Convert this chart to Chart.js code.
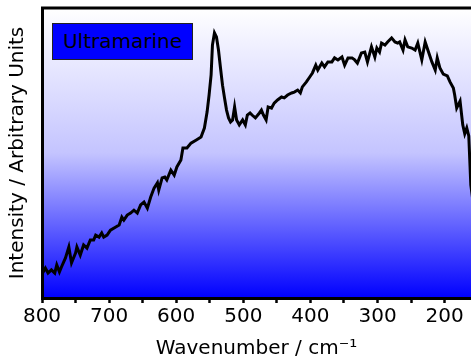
<!DOCTYPE html>
<html>
<head>
<meta charset="utf-8">
<title>Ultramarine Raman</title>
<script src="https://cdn.jsdelivr.net/npm/chart.js@4"></script>
<style>
    html, body { margin: 0; padding: 0; background: #fff; }
    .chart-wrap { position: relative; width: 471px; height: 362px; }
    .sample-label {
        position: absolute;
        left: 52px;
        top: 23px;
        width: 139px;
        height: 35px;
        background: #0000ff;
        border: 1px solid #222;
        font: 20px "DejaVu Sans", sans-serif;
        color: #000;
        line-height: 35px;
        text-align: center;
    }
</style>
</head>
<body>
<div class="chart-wrap">
    <canvas id="spectrum" width="471" height="362"></canvas>
    <div class="sample-label">Ultramarine</div>
</div>
<script>
// Spektrum verisi (dalga sayısı / cm-1 ve yoğunluk)
const wavenumbers = [
    800, 795, 791, 786, 781, 778, 774, 771, 765, 760, 756, 750, 748, 743, 738, 733,
    728, 723, 720, 715, 711, 708, 703, 698, 690, 685, 681, 678, 673, 668, 663, 658,
    653, 648, 643, 638, 633, 628, 626, 621, 617, 614, 608, 603, 599, 593, 590, 584,
    578, 570, 563, 558, 554, 551, 548, 546, 543, 540, 537, 534, 531, 528, 525, 522,
    519, 516, 513, 510, 506, 501, 497, 494, 490, 487, 482, 476, 473, 470, 466, 463,
    458, 454, 449, 443, 439, 434, 428, 424, 419, 415, 412, 406, 401, 397, 392, 389,
    383, 379, 374, 368, 364, 359, 353, 349, 344, 338, 334, 330, 324, 319, 315, 309,
    304, 301, 297, 294, 289, 285, 279, 274, 270, 267, 262, 259, 255, 249, 244, 240,
    234, 229, 225, 219, 214, 211, 207, 202, 196, 192, 187, 185, 182, 177, 173, 170,
    167, 164, 161, 158
];
const intensity = [
    8.3, 10.3, 8.6, 9.7, 8.6, 11.4, 9.0, 10.7, 13.8, 17.6, 12.1, 15.5, 17.6, 14.8, 18.3, 17.2,
    20.0, 20.0, 21.7, 21.0, 22.4, 21.0, 21.7, 23.4, 24.5, 25.2, 27.9, 26.9, 28.6, 29.3, 30.3, 29.3,
    32.1, 33.1, 31.0, 34.8, 37.9, 39.7, 37.2, 41.4, 41.7, 40.7, 44.1, 42.4, 45.2, 47.6, 51.7, 51.7,
    53.4, 54.5, 55.5, 58.6, 64.1, 70.0, 76.9, 87.2, 91.4, 90.0, 85.5, 79.3, 73.4, 69.0, 64.8, 62.1,
    60.7, 61.4, 65.9, 61.4, 59.7, 61.4, 59.7, 63.1, 63.8, 63.1, 62.1, 63.8, 64.8, 63.1, 61.4, 65.9,
    65.5, 67.2, 68.3, 69.3, 69.0, 70.0, 70.7, 71.0, 71.7, 70.7, 72.8, 74.5, 76.2, 77.6, 80.3, 78.6,
    81.0, 79.7, 81.4, 81.4, 82.8, 82.1, 83.1, 80.3, 82.8, 82.8, 82.1, 81.0, 84.5, 84.8, 81.4, 86.6,
    83.1, 86.2, 84.8, 87.9, 87.2, 88.3, 89.7, 88.3, 87.9, 88.3, 85.5, 89.0, 86.6, 86.2, 85.5, 87.9,
    82.1, 88.3, 85.5, 81.4, 78.6, 82.8, 79.3, 77.2, 76.6, 74.5, 72.4, 70.0, 65.5, 67.9, 59.7, 56.6,
    58.6, 55.9, 39.0, 33.8
];

// Eksen aralıkları
const xRange = [160.7, 800];
const yRange = [0, 100];
const xStep = 50;
const xLabelStep = 100;

const FONT = '"DejaVu Sans", sans-serif';

document.addEventListener('DOMContentLoaded', function() {
    initializeSpectrumChart();
});

// Grafik alanı arka planı ve üst çerçeve
const plotFrame = {
    id: 'plotFrame',
    beforeDraw(chart) {
        const { ctx, chartArea } = chart;
        const grad = ctx.createLinearGradient(0, chartArea.top, 0, chartArea.bottom);
        grad.addColorStop(0, '#ffffff');
        grad.addColorStop(0.5, '#c4c4ff');
        grad.addColorStop(1, '#0000ff');
        ctx.save();
        ctx.fillStyle = grad;
        ctx.fillRect(chartArea.left, chartArea.top, chartArea.right - chartArea.left, chartArea.bottom - chartArea.top);
        ctx.restore();
    },
    afterDraw(chart) {
        const { ctx, chartArea } = chart;
        ctx.save();
        ctx.strokeStyle = '#000';
        ctx.lineWidth = 3;
        ctx.beginPath();
        ctx.moveTo(chartArea.left - 1, chartArea.top);
        ctx.lineTo(chartArea.right, chartArea.top);
        ctx.stroke();
        ctx.restore();
    }
};

// 50'lik adımlarla tik listesi
function buildXTicks() {
    const ticks = [];
    for (let v = Math.ceil(xRange[0] / xStep) * xStep; v <= xRange[1]; v += xStep) {
        ticks.push({ value: v });
    }
    return ticks;
}

function initializeSpectrumChart() {
    const ctx = document.getElementById('spectrum').getContext('2d');
    const points = wavenumbers.map((w, i) => ({ x: w, y: intensity[i] }));

    new Chart(ctx, {
        type: 'line',
        data: {
            datasets: [{
                data: points,
                borderColor: '#000',
                borderWidth: 3,
                pointRadius: 0,
                tension: 0,
                fill: false
            }]
        },
        options: {
            responsive: false,
            animation: false,
            layout: { padding: { top: 8, right: 0, left: 0, bottom: 0 } },
            plugins: {
                legend: { display: false },
                tooltip: { enabled: false }
            },
            scales: {
                x: {
                    type: 'linear',
                    reverse: true,
                    min: xRange[0],
                    max: xRange[1],
                    afterBuildTicks: (axis) => { axis.ticks = buildXTicks(); },
                    afterFit: (axis) => { axis.height = 64; },
                    ticks: {
                        autoSkip: false,
                        maxRotation: 0,
                        color: '#000',
                        padding: 2,
                        font: { family: FONT, size: 20 },
                        callback: (v) => (v % xLabelStep === 0 ? String(v) : '')
                    },
                    grid: {
                        drawOnChartArea: false,
                        drawTicks: true,
                        tickLength: 5,
                        tickWidth: 2.5,
                        tickColor: '#000'
                    },
                    border: { display: true, color: '#000', width: 3 },
                    title: {
                        display: true,
                        text: 'Wavenumber / cm⁻¹',
                        color: '#000',
                        font: { family: FONT, size: 20 },
                        padding: { top: 0, bottom: 1 }
                    }
                },
                y: {
                    min: yRange[0],
                    max: yRange[1],
                    afterFit: (axis) => { axis.width = 42; },
                    ticks: { display: false },
                    grid: { display: false, drawTicks: false },
                    border: { display: true, color: '#000', width: 3 },
                    title: {
                        display: true,
                        text: 'Intensity / Arbitrary Units',
                        color: '#000',
                        font: { family: FONT, size: 20 },
                        padding: { top: 6, bottom: 0 }
                    }
                }
            }
        },
        plugins: [plotFrame]
    });
}
</script>
</body>
</html>
